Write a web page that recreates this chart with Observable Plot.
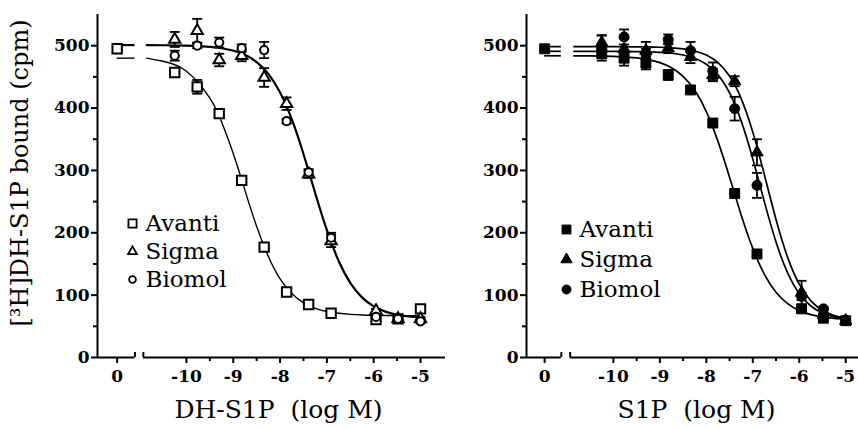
<!DOCTYPE html>
<html>
<head>
<meta charset="utf-8">
<script src="https://cdn.jsdelivr.net/npm/d3@7"></script>
<script src="https://cdn.jsdelivr.net/npm/@observablehq/plot@0.6"></script>
<style>
  html, body { margin: 0; padding: 0; background: #fff; }
  #wrap { position: relative; width: 858px; height: 429px; overflow: hidden; background: #fff; }
  #left, #right { position: absolute; top: 0; }
  #left { left: 0; }
  #right { left: 445px; }
  svg { font-family: "DejaVu Serif", serif; }
</style>
</head>
<body>
<div id="wrap"><div id="left"></div><div id="right"></div></div>
<script>
// ---------- data ----------
const ctrlLogM = -11.48;            // axis position used for the "0" (vehicle) dose
const doses = [-10.25, -9.77, -9.3, -8.82, -8.34, -7.86, -7.39, -6.91, -5.95, -5.48, -5];

// DH-S1P panel (open symbols)
const dhCtrlAvanti = 495;
const dhAvanti    = [457, 434, 391, 284, 177, 105, 85, 71, 61, 62, 78];
const dhAvantiErr = [5, 11, 4, 3, 3, 3, 3, 3, 3, 4, 3];
const dhSigma     = [510, 524, 477, 484, 449, 407, 294, 187, 75, 62, 62];
const dhSigmaErr  = [12, 19, 10, 9, 15, 10, 6, 10, 3, 3, 3];
const dhBiomol    = [484, 500, 505, 496, 493, 379, 297, 192, 65, 62, 58];
const dhBiomolErr = [8, 4, 8, 6, 13, 4, 5, 8, 3, 3, 3];

// S1P panel (filled symbols)
const s1CtrlAvanti = 495;
const s1Avanti    = [487, 480, 472, 453, 429, 376, 263, 166, 78, 63, 59];
const s1AvantiErr = [6, 12, 10, 8, 3, 3, 3, 3, 3, 3, 3];
const s1Sigma     = [505, 495, 492, 496, 482, 453, 443, 329, 104, 68, 59];
const s1SigmaErr  = [12, 18, 14, 8, 10, 10, 8, 21, 19, 3, 3];
const s1Biomol    = [496, 514, 487, 510, 492, 459, 399, 276, 98, 78, 60];
const s1BiomolErr = [20, 12, 8, 8, 14, 14, 19, 20, 6, 3, 3];

// fitted curves
const curveX = [-10.85, -10.5, -10, -9.5, -9.25, -9, -8.75, -8.5, -8.25, -8, -7.75, -7.5, -7.25, -7, -6.75, -6.5, -6.25, -6, -5.75, -5.5, -5.25, -5];
const dhFitAvanti      = [480, 475, 459, 416, 378, 327, 268, 210, 162, 126, 102.5, 87.7, 78.9, 73.8, 70.9, 69.2, 68.2, 67.7, 67.4, 67.2, 67.1, 67.1];
const dhFitSigmaBiomol = [501, 500.7, 500.1, 498.1, 495.9, 492, 485.3, 473.8, 454.8, 425.1, 382.1, 326.3, 263.8, 204.1, 155.1, 119.7, 96.4, 82, 73.5, 68.5, 65.7, 64.1];
const s1FitAvanti = [483.8, 483.6, 482.9, 480.4, 477.7, 472.9, 464.6, 450.8, 428.4, 394.1, 346.6, 289.1, 228.6, 174.9, 133.3, 104.6, 86.3, 75.2, 68.7, 64.9, 62.8, 61.6];
const s1FitSigma  = [498.5, 498.5, 498.4, 498.2, 498, 497.5, 496.6, 495, 491.3, 485, 472.8, 451.3, 415.2, 361.4, 292.8, 221.3, 160.6, 117.7, 90.9, 75.6, 67.3, 62.8];
const s1FitBiomol = [491, 491, 490.9, 490.5, 490.1, 489.4, 487.9, 485.1, 479.9, 470.3, 453.2, 424.2, 379.4, 318.5, 249.5, 185.2, 135.6, 102.5, 82.6, 71.2, 65.1, 61.7];

const seriesNames = ["Avanti", "Sigma", "Biomol"];
const yMajor = [0, 100, 200, 300, 400, 500];
const yMinor = [50, 150, 250, 350, 450];
const xMajor = [ctrlLogM, -10, -9, -8, -7, -6, -5];
const xTickLabels = ["0", "-10", "-9", "-8", "-7", "-6", "-5"];
const xMinor = [-9.5, -8.5, -7.5, -6.5, -5.5];

// ---------- helpers ----------
const capSymbol = {
  draw(ctx, size) {
    const w = Math.sqrt(size / Math.PI);
    ctx.moveTo(-w, 0);
    ctx.lineTo(w, 0);
  }
};
const rows = (vals, errs, name) => doses.map((x, i) => ({x, y: vals[i], e: errs[i], name}));
const fitRows = (vals, name) => curveX.map((x, i) => ({x, y: vals[i], name}));
const tickLabel = new Map(xMajor.map((d, i) => [d, xTickLabels[i]]));

function panel({width, marginLeft, xDomain, breakLo, breakHi, data, ctrl, fits, fitWidths,
                filled, sizes, legend, xTitle, xTitleDx, yTitle}) {
  const symbols = ["square", "triangle", "circle"];
  const marks = [
    Plot.ruleX([xDomain[0]], {y1: 0, y2: 550, strokeWidth: 2}),
    Plot.ruleY([0], {x1: xDomain[0], x2: breakLo, strokeWidth: 2}),
    Plot.ruleY([0], {x1: breakHi, x2: xDomain[1], strokeWidth: 2}),
    Plot.ruleX([breakLo, breakHi], {y1: 0, y2: 8, strokeWidth: 2}),
    Plot.axisY({ticks: yMajor, tickSize: 6, tickPadding: 2, strokeWidth: 2, fontSize: 17, fontWeight: "bold", label: null, tickFormat: d => String(d)}),
    Plot.axisY({ticks: yMinor, tickSize: 4, strokeWidth: 2, label: null, tickFormat: () => ""}),
    Plot.axisX({ticks: xMajor, tickSize: 6, tickPadding: 6, strokeWidth: 2, fontSize: 17, fontWeight: "bold", label: null, tickFormat: d => tickLabel.get(d)}),
    Plot.axisX({ticks: xMinor, tickSize: 4, strokeWidth: 2, label: null, tickFormat: () => ""}),
    ...fits.map((f, k) => Plot.ruleY([f[0].y], {x1: ctrlLogM, x2: breakLo, strokeWidth: fitWidths[k]})),
    ...fits.map((f, k) => Plot.line(f, {x: "x", y: "y", curve: "natural", strokeWidth: fitWidths[k]})),
  ];
  data.forEach(s => {
    marks.push(Plot.ruleX(s, {x: "x", y1: d => d.y - d.e, y2: d => d.y + d.e, strokeWidth: 1.8}));
    marks.push(Plot.dot(s, {x: "x", y: d => d.y + d.e, symbol: capSymbol, r: 5, stroke: "black", strokeWidth: 1.8}));
    marks.push(Plot.dot(s, {x: "x", y: d => d.y - d.e, symbol: capSymbol, r: 5, stroke: "black", strokeWidth: 1.8}));
  });
  marks.push(Plot.dot([ctrl], {x: () => ctrlLogM, y: d => d, symbol: "square", r: sizes[0],
    fill: filled ? "black" : "white", stroke: "black", strokeWidth: filled ? 1 : 2}));
  data.forEach((s, k) => {
    marks.push(Plot.dot(s, {x: "x", y: "y", symbol: symbols[k], r: sizes[k],
      fill: filled ? "black" : "white", stroke: "black", strokeWidth: filled ? 1 : 2}));
  });
  seriesNames.forEach((name, k) => {
    marks.push(Plot.dot([name], {frameAnchor: "top-left", dx: legend.dx, dy: legend.dy + k * legend.step,
      symbol: symbols[k], r: legend.r[k], fill: filled ? "black" : "white", stroke: "black", strokeWidth: filled ? 1 : 1.8}));
    marks.push(Plot.text([name], {frameAnchor: "top-left", dx: legend.tx, dy: legend.dy + k * legend.step,
      text: d => d, textAnchor: "start", lineAnchor: "middle", fontSize: 23, fill: "black"}));
  });
  marks.push(Plot.text([xTitle], {frameAnchor: "bottom", dx: xTitleDx, dy: 52, text: d => d,
    textAnchor: "middle", lineAnchor: "middle", fontSize: 25, fill: "black"}));
  if (yTitle) {
    marks.push(Plot.text([yTitle], {frameAnchor: "left", dx: -77, dy: -13, rotate: -90, text: d => d,
      textAnchor: "middle", lineAnchor: "middle", fontSize: 24, fill: "black"}));
  }
  return Plot.plot({
    width, height: 429,
    marginLeft, marginRight: 0, marginTop: 14, marginBottom: 72,
    x: {domain: xDomain},
    y: {domain: [0, 550]},
    style: {fontFamily: "DejaVu Serif, serif", background: "white", overflow: "visible", color: "black"},
    marks
  });
}

const left = panel({
  width: 445, marginLeft: 97, xDomain: [-11.9, -4.466], breakLo: -11.1, breakHi: -10.92,
  data: [rows(dhAvanti, dhAvantiErr, "Avanti"), rows(dhSigma, dhSigmaErr, "Sigma"), rows(dhBiomol, dhBiomolErr, "Biomol")],
  ctrl: dhCtrlAvanti,
  fits: [fitRows(dhFitAvanti, "Avanti"), fitRows(dhFitSigmaBiomol, "Sigma/Biomol")],
  fitWidths: [1.4, 2.2],
  filled: false, sizes: [5.3, 4.2, 4.1],
  legend: {dx: 35, dy: 209, step: 28, tx: 48, r: [4.6, 3.3, 3.4]},
  xTitle: "DH-S1P  (log M)", xTitleDx: 7,
  yTitle: "[³H]DH-S1P bound (cpm)"
});
const right = panel({
  width: 413, marginLeft: 81, xDomain: [-11.87, -4.725], breakLo: -11.12, breakHi: -10.93,
  data: [rows(s1Avanti, s1AvantiErr, "Avanti"), rows(s1Sigma, s1SigmaErr, "Sigma"), rows(s1Biomol, s1BiomolErr, "Biomol")],
  ctrl: s1CtrlAvanti,
  fits: [fitRows(s1FitAvanti, "Avanti"), fitRows(s1FitSigma, "Sigma"), fitRows(s1FitBiomol, "Biomol")],
  fitWidths: [1.7, 1.7, 1.7],
  filled: true, sizes: [5.6, 4.6, 5],
  legend: {dx: 40, dy: 215, step: 30, tx: 53, r: [5, 4.2, 4.5]},
  xTitle: "S1P  (log M)", xTitleDx: 4,
  yTitle: null
});
document.getElementById("left").appendChild(left);
document.getElementById("right").appendChild(right);
</script>
</body>
</html>
